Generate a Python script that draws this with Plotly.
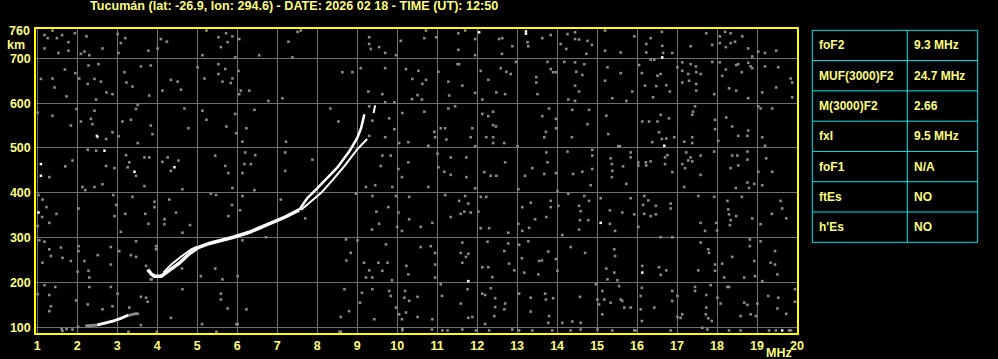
import plotly.graph_objects as go

# ---------------- data ----------------
title_text = "Tucumán (lat: -26.9, lon: 294.6) - DATE: 2026 02 18 - TIME (UT): 12:50"
x_ticks = list(range(1, 21))
y_ticks = [100, 200, 300, 400, 500, 600, 700]

table_labels = ["foF2", "MUF(3000)F2", "M(3000)F2", "fxI", "foF1", "ftEs", "h'Es"]
table_values = ["9.3 MHz", "24.7 MHz", "2.66", "9.5 MHz", "N/A", "NO", "NO"]

# low (E-region) echo
e_gray_f = [2.2, 2.5, 2.9, 3.25, 3.5]
e_gray_h = [103, 105, 114, 126, 131]
e_white_f = [2.5, 2.7, 2.9, 3.1, 3.27]
e_white_h = [105, 109, 114, 120, 127]

# F-region echo, main (merged) part
f_main_f = [3.76, 3.85, 3.93, 4.10, 4.30, 4.55, 4.80, 5.02, 5.30, 5.60, 5.90, 6.30, 6.90, 7.20, 7.55]
f_main_h = [229, 219, 214, 214, 227, 243, 264, 278, 287, 293, 301, 312, 334, 346, 362]
# split near 4-5 MHz
f_split_f = [4.15, 4.35, 4.60, 4.85, 5.00]
f_split_h = [222, 240, 258, 274, 280]
# ordinary branch
o_branch_f = [7.55, 7.75, 8.00, 8.20, 8.50, 8.80, 9.00, 9.10, 9.18]
o_branch_h = [362, 388, 410, 428, 456, 492, 522, 545, 575]
# extraordinary branch
x_branch_f = [7.60, 7.80, 8.10, 8.40, 8.70, 9.00, 9.15, 9.25]
x_branch_h = [362, 378, 400, 430, 462, 497, 510, 520]
x_top_f = [9.41, 9.45]
x_top_h = [578, 595]

# isolated bright pixels
white_dots = [(2.49, 527), (1.09, 464), (1.09, 438), (2.68, 494), (3.43, 447), (4.43, 457),
              (12.05, 758), (13.22, 760), (13.22, 755), (16.63, 702), (16.68, 505),
              (11.78, 203), (15.09, 333), (16.13, 222), (19.63, 93), (1.03, 356)]

# background noise pixels (freq MHz, virtual height km)
noise_nw = [(1.18,752),(1.38,762),(1.26,745),(1.49,745),(1.62,752),(1.78,736),(1.94,756),(1.78,717),(1.53,712),(1.18,722),(2.09,710),(2.18,715),(2.23,749),(2.63,722),(2.30,707),(3.01,754),(3.09,734),(3.20,745),(3.03,712),(3.78,717),(4.09,743),(4.24,737),(4.01,722),
            (5.23,762),(5.53,747),(5.72,756),(5.76,736),(5.88,749),(5.59,725),(6.05,743),(5.13,707),(5.95,702),(6.55,707),(7.28,737),(7.38,702),(7.51,759),(7.59,762),(9.30,747),(9.30,732),(9.34,721),(9.55,725),(9.70,712),(9.97,707),(10.09,739),
            (1.09,654),(1.38,655),(1.69,675),(1.95,667),(2.05,655),(2.28,684),(2.53,687),(2.43,654),(2.26,643),(2.59,648),(2.47,608),(2.73,624),(2.88,620),(1.73,615),(1.43,635),(3.18,669),(3.23,646),(3.38,637),(3.59,682),(3.84,684),(3.80,617),(4.13,628),(4.34,652),(4.51,648),(4.59,630),(5.01,680),(5.18,655),(5.53,687),(5.53,665),(5.70,676),(5.63,648),(5.88,655),(5.84,645),(6.03,672),(6.05,620),(6.30,628),(6.09,628),(6.78,605),(7.13,611),(8.63,669),(8.88,669),(9.09,678),(9.70,678),(9.63,620),(9.28,626),(10.22,676),(10.38,654),(9.93,602),(9.70,602),(10.37,609),
            (1.01,579),(1.38,572),(1.84,550),(1.98,587),(2.09,559),(2.34,565),(2.43,583),(2.38,553),(2.51,524),(2.72,520),(2.88,535),(3.03,526),(3.13,559),(3.34,563),(3.47,587),(3.51,596),(3.88,531),(3.84,550),(3.51,511),(4.68,588),(4.78,544),(5.13,583),(5.23,563),(5.73,548),(5.95,576),(5.97,533),(6.23,544),(6.13,514),(6.43,585),(7.22,514),(8.33,588),(8.53,559),(9.30,593),(9.38,561),(9.30,527),(9.70,524),(9.80,566),(9.93,542),(10.13,578),(10.05,511),(10.28,513),
            (1.30,435),(1.70,459),(1.88,472),(2.26,496),(2.47,494),(2.72,460),(2.93,455),(3.22,484),(3.30,468),(3.26,457),(3.47,438),(3.68,479),(3.80,479),(4.13,469),(4.26,479),(4.34,449),(4.53,472),(5.45,483),(5.70,460),(5.78,444),(6.20,490),(6.18,464),(6.34,464),(6.45,484),(6.13,444),(7.20,490),(7.20,449),(7.88,474),(9.63,483),(9.59,460),(9.84,483),(10.03,453),(10.28,468),(10.12,435)]

noise_ne = [(10.72,762),(10.68,745),(10.98,747),(11.53,756),(11.53,719),(11.70,762),(11.95,743),(11.95,707),(12.55,743),(12.63,745),(12.62,710),(12.88,727),(13.26,736),(13.28,727),(13.63,745),(13.84,752),(14.09,732),(14.26,754),(14.45,758),(14.45,743),(14.55,742),(14.76,739),(14.87,730),(14.73,710),(14.23,721),(15.20,762),(15.20,717),(15.59,713),(15.93,749),(16.23,732),(16.23,713),(16.34,745),(16.63,728),(16.65,712),(16.88,712),(16.62,759),(17.34,727),(17.73,756),(17.88,730),(18.07,749),(18.07,734),(18.22,725),(18.34,734),(18.45,737),(18.63,749),(18.20,759),(18.34,756),(18.78,722),(19.03,715),(19.20,712),(19.48,717),(18.88,704),
            (10.53,672),(10.63,643),(10.72,652),(10.51,618),(10.62,608),(11.03,670),(11.28,648),(11.30,617),(11.51,687),(11.55,687),(11.63,639),(11.95,623),(12.09,672),(12.13,608),(12.28,652),(12.48,624),(12.59,678),(12.73,670),(12.70,620),(12.84,665),(12.97,692),(13.48,658),(13.48,646),(13.51,620),(13.76,692),(13.84,676),(13.90,669),(13.97,669),(14.18,692),(14.45,691),(14.48,670),(14.63,663),(14.68,687),(14.45,639),(14.55,626),(14.28,608),(14.45,605),(15.20,650),(15.26,680),(15.59,667),(15.38,611),(15.73,605),(15.88,626),(16.05,685),(16.12,667),(16.20,639),(16.34,697),(16.43,697),(16.51,661),(16.59,665),(16.48,638),(16.40,613),(16.73,640),(16.82,626),(17.01,680),(17.13,691),(17.13,672),(17.28,665),(17.13,646),(17.34,687),(17.47,682),(17.48,669),(17.48,643),(17.59,665),(17.30,650),(17.48,628),(17.93,620),(17.88,692),(18.07,691),(18.13,661),(18.22,675),(18.30,633),(18.48,685),(18.53,687),(18.62,669),(18.48,628),(18.78,690),(18.84,682),(18.88,678),(18.78,611),(19.13,624),(19.20,682),(19.48,635),(19.53,680),(19.84,655),(19.88,646),(19.88,613),
            (10.68,581),(10.93,536),(10.95,524),(11.09,544),(11.20,544),(11.28,588),(11.45,593),(11.23,519),(10.78,505),(11.88,544),(11.84,524),(12.13,576),(12.28,571),(12.40,581),(12.40,551),(12.47,548),(12.40,524),(12.40,511),(12.23,524),(11.95,504),(12.68,511),(13.01,504),(13.63,571),(13.80,588),(13.97,565),(13.97,544),(13.72,536),(13.68,524),(14.37,524),(14.38,585),(14.76,553),(14.80,585),(15.23,572),(15.28,531),(15.57,504),(16.13,559),(16.30,559),(16.38,513),(16.51,559),(16.59,574),(16.55,535),(16.62,520),(16.73,521),(16.80,566),(16.93,524),(17.18,514),(17.38,574),(17.40,581),(17.45,593),(17.38,524),(17.38,511),(17.95,563),(17.95,542),(18.03,516),(18.23,568),(18.38,548),(18.53,527),(18.76,527),(18.78,539),(19.13,524),(19.20,505),(19.03,593),(19.09,588),(19.38,588),
            (11.01,487),(11.03,457),(11.18,447),(11.34,479),(11.34,440),(11.73,479),(11.73,435),(12.18,446),(12.34,438),(12.48,438),(12.70,468),(13.20,438),(13.38,455),(13.68,442),(13.73,490),(13.76,468),(13.97,444),(14.26,492),(14.40,442),(14.63,447),(14.88,496),(14.88,483),(14.88,453),(15.34,477),(15.37,464),(15.38,449),(15.37,435),(15.53,504),(15.84,490),(15.84,479),(15.65,459),(16.03,468),(16.03,461),(16.22,468),(16.23,461),(16.34,470),(16.70,479),(16.76,484),(16.70,464),(16.88,446),(17.13,464),(17.23,490),(17.28,472),(17.34,479),(17.38,470),(17.20,455),(17.59,483),(17.59,440),(17.93,492),(18.38,483),(18.51,483),(18.76,492),(18.76,474),(18.53,461),(18.34,455),(19.23,477),(19.03,447),(19.38,447)]

noise_sw = [(1.03,395),(1.13,385),(1.12,346),(1.23,368),(1.30,333),(1.01,326),(1.48,353),(2.03,365),(2.13,413),(2.20,406),(2.43,413),(2.63,419),(2.90,395),(2.97,373),(2.93,348),(3.09,313),(3.20,353),(3.38,391),(3.68,415),(3.70,353),(3.78,331),(3.93,380),(3.93,368),(4.18,341),(4.18,330),(4.30,385),(4.47,356),(4.63,311),(4.63,408),(4.82,328),(5.34,398),(5.47,395),(5.88,411),(5.87,373),(6.07,361),(6.13,393),(5.78,348),(6.43,406),(7.09,385),(7.70,343),(8.97,398),(9.22,413),(9.45,417),(9.38,393),(9.48,358),(9.55,331),(9.37,318),(9.78,368),(9.88,413),(10.03,356),(10.00,324),(10.12,315),(10.30,341),(9.97,393),(10.30,391),
            (1.05,294),(1.18,291),(1.30,274),(1.13,244),(1.34,259),(1.59,278),(1.63,255),(1.84,248),(2.03,281),(2.03,270),(2.01,224),(2.18,248),(2.28,226),(2.30,211),(2.51,261),(2.84,279),(2.84,240),(3.05,270),(3.34,261),(3.47,257),(3.47,292),(3.72,237),(3.97,281),(3.84,207),(3.86,207),(3.97,274),(4.62,231),(5.09,214),(5.45,231),(5.63,207),(6.01,214),(6.13,294),(6.72,301),(8.72,296),(8.73,249),(8.84,266),(9.01,294),(9.17,244),(9.30,227),(9.22,211),(9.38,211),(9.53,244),(9.63,226),(9.72,285),(9.76,244),(9.87,205),(10.23,237),(10.28,218),
            (1.01,174),(1.18,194),(1.30,172),(1.34,147),(1.30,136),(1.45,190),(1.97,160),(2.26,151),(2.30,190),(2.63,140),(2.84,190),(2.88,147),(3.01,175),(3.30,144),(3.51,130),(3.59,168),(3.72,166),(3.76,157),(3.59,105),(4.34,121),(4.63,185),(5.12,107),(5.59,175),(5.59,162),(5.76,142),(6.23,140),(6.01,107),(8.59,123),(8.68,185),(8.80,136),(9.07,155),(9.12,177),(9.38,185),(9.43,118),(9.80,181),(9.84,170),(9.97,144),(10.05,129),(10.20,181),(10.18,166),(10.30,159),(10.22,133),(10.12,118),
            (1.61,96),(1.73,96),(2.02,101),(3.28,90),(3.99,90),(5.48,90),(5.98,107),(8.56,90),(8.59,90),(10.13,93),(10.13,97),(1.63,92),(1.88,95)]

noise_se = [(10.78,413),(10.59,324),(10.88,333),(11.20,395),(11.34,346),(11.55,382),(11.59,353),(11.68,358),(11.70,393),(11.78,376),(11.84,356),(11.95,410),(12.03,358),(12.09,391),(12.23,391),(12.09,321),(12.30,321),(12.78,311),(13.03,408),(13.13,368),(13.03,331),(13.13,315),(13.30,322),(13.34,378),(13.45,341),(13.73,346),(13.84,368),(13.84,382),(14.03,371),(14.01,404),(14.13,306),(14.28,398),(14.55,371),(14.59,359),(14.57,339),(14.55,318),(14.68,393),(14.78,339),(14.80,382),(14.84,417),(15.09,388),(15.32,361),(15.32,331),(15.45,315),(15.63,356),(15.73,420),(15.84,388),(15.93,352),(16.03,324),(16.15,373),(16.18,393),(16.18,353),(16.28,383),(16.34,348),(16.47,371),(16.47,352),(16.59,301),(16.84,376),(16.84,365),(16.88,301),(17.18,413),(17.53,393),(17.59,333),(17.70,315),(17.93,391),(17.98,333),(18.00,316),(18.26,382),(18.28,363),(18.30,352),(18.34,339),(18.32,328),(18.48,348),(18.62,391),(18.76,423),(18.80,411),(18.93,420),(19.13,417),(19.09,330),(19.37,353),(19.63,365),(19.59,382),(19.73,343),(18.88,343),(18.47,411),
            (10.59,279),(10.84,281),(10.95,266),(10.95,240),(10.95,211),(11.63,289),(11.59,266),(11.63,244),(11.78,264),(11.72,257),(12.26,291),(12.13,234),(12.28,234),(12.38,212),(12.68,270),(12.78,287),(12.80,242),(12.93,227),(13.05,284),(13.12,254),(13.18,222),(13.28,292),(13.55,248),(13.62,249),(13.53,218),(13.78,269),(13.97,252),(14.01,226),(14.34,279),(14.70,266),(15.23,231),(15.43,274),(15.45,259),(15.43,222),(15.51,205),(15.26,207),(16.13,237),(16.55,234),(16.59,217),(16.73,227),(17.53,227),(17.59,289),(17.78,274),(17.80,266),(17.95,240),(17.95,226),(18.18,211),(18.13,242),(18.38,257),(18.68,211),(18.82,296),(18.82,281),(18.93,248),(18.95,214),(19.13,203),(19.09,292),(19.34,244),(19.45,240),(19.45,270),(19.51,218),
            (10.51,168),(10.51,123),(11.09,196),(11.12,170),(10.88,118),(11.59,153),(11.76,185),(11.78,121),(11.88,123),(12.13,175),(12.20,172),(12.34,187),(12.45,165),(12.45,145),(12.43,125),(12.70,153),(12.68,140),(12.20,107),(13.05,175),(13.34,166),(13.34,135),(13.70,175),(13.72,162),(13.90,165),(13.80,125),(13.78,110),(14.13,110),(14.38,113),(14.57,168),(14.59,110),(14.97,196),(15.01,162),(15.05,151),(15.13,181),(15.13,129),(15.18,162),(15.34,155),(15.55,192),(15.59,162),(15.63,159),(15.68,144),(15.84,144),(16.12,188),(16.09,170),(16.09,140),(16.12,114),(16.43,144),(16.88,181),(16.88,159),(17.01,170),(17.01,123),(17.09,121),(17.13,129),(17.45,190),(17.45,181),(17.73,172),(17.73,144),(17.72,129),(17.78,120),(17.87,114),(17.84,194),(18.01,166),(18.09,153),(18.26,190),(18.30,190),(18.59,125),(18.68,155),(18.76,150),(18.84,129),(18.97,125),(19.01,153),(19.28,170),(19.53,166),(19.51,142),(19.95,185),(19.95,157),(19.73,130),
            (10.87,95),(11.13,93),(11.26,93),(11.63,95),(11.97,93),(12.30,93),(12.88,95),(13.05,93),(13.38,93),(13.88,93),(14.34,93),(14.59,95),(15.01,95),(15.38,93),(15.93,93),(15.96,93),(16.84,93),(17.63,99),(17.76,95),(18.30,93),(18.59,93),(19.30,93),(19.47,93),(19.80,93),(19.85,93)]

# ---------------- layout helpers ----------------
W, H = 998, 359
PL, PR, PT, PB = 36, 797, 29, 333   # plot area in pixels


def px(x):
    return (x - PL) / (PR - PL)


def py(y):
    return (PB - y) / (PB - PT)


YEL = "#ffff00"
TXT = "#ffff80"
GRAY = "#8a8a8a"
GRID = "#707070"
CYAN = "#00e5e5"
FONT = "Liberation Sans, Arial, sans-serif"

fig = go.Figure()

all_noise = noise_nw + noise_ne + noise_sw + noise_se
fig.add_trace(go.Scatter(
    x=[p[0] for p in all_noise], y=[p[1] for p in all_noise], mode="markers",
    marker=dict(symbol="square", size=2.6, color=GRAY, line=dict(width=0)),
    hoverinfo="skip", showlegend=False))

fig.add_trace(go.Scatter(x=e_gray_f, y=e_gray_h, mode="lines",
                         line=dict(color=GRAY, width=3), showlegend=False, hoverinfo="skip"))
fig.add_trace(go.Scatter(x=e_white_f, y=e_white_h, mode="lines",
                         line=dict(color="white", width=2.5), showlegend=False, hoverinfo="skip"))

for fx, fh, w in [(f_main_f, f_main_h, 3.5), (f_split_f, f_split_h, 2),
                  (o_branch_f, o_branch_h, 2.5), (x_branch_f, x_branch_h, 2),
                  (x_top_f, x_top_h, 2)]:
    fig.add_trace(go.Scatter(x=fx, y=fh, mode="lines",
                             line=dict(color="white", width=w), showlegend=False, hoverinfo="skip"))

fig.add_trace(go.Scatter(
    x=[p[0] for p in white_dots], y=[p[1] for p in white_dots], mode="markers",
    marker=dict(symbol="square", size=2.5, color="white", line=dict(width=0)),
    hoverinfo="skip", showlegend=False))

tickfont = dict(family=FONT, color=TXT, size=12.5, weight="bold")
fig.update_layout(
    width=W, height=H,
    margin=dict(l=PL, r=W - PR, t=PT, b=H - PB, pad=0, autoexpand=False),
    paper_bgcolor="black", plot_bgcolor="black",
    showlegend=False,
    font=dict(family=FONT, color=TXT, size=12),
    xaxis=dict(range=[0.9675, 20.0], tickvals=x_ticks, ticktext=[str(v) for v in x_ticks],
               showgrid=True, gridcolor=GRID, gridwidth=1, zeroline=False, automargin=False,
               showline=True, linecolor=YEL, linewidth=1.5, mirror=True,
               ticks="", ticklabelstandoff=0, tickfont=tickfont),
    yaxis=dict(range=[87.3, 765.4], tickvals=y_ticks, ticktext=[str(v) for v in y_ticks],
               showgrid=True, gridcolor=GRID, gridwidth=1, zeroline=False, automargin=False,
               showline=True, linecolor=YEL, linewidth=1.5, mirror=True,
               ticks="", ticklabelstandoff=1, tickfont=tickfont),
)

annotations = [
    dict(text=title_text, x=px(294), y=py(6), xref="paper", yref="paper",
         xanchor="center", yanchor="middle", showarrow=False,
         font=dict(family=FONT, color=TXT, size=12.6, weight="bold")),
    dict(text="760", x=px(32), y=py(31), xref="paper", yref="paper",
         xanchor="right", yanchor="middle", showarrow=False, font=tickfont),
    dict(text="km", x=px(5), y=py(45), xref="paper", yref="paper",
         xanchor="left", yanchor="middle", showarrow=False, font=tickfont),
    dict(text="MHz", x=px(764), y=py(353), xref="paper", yref="paper",
         xanchor="left", yanchor="middle", showarrow=False, font=tickfont),
]

# table
TL, TM, TR, TT, TB = 812.3, 907.3, 977.7, 30.3, 242.3
n = len(table_labels)
rh = (TB - TT) / n
shapes = [dict(type="rect", xref="paper", yref="paper", x0=px(TL), x1=px(TR), y0=py(TT), y1=py(TB),
               line=dict(color=CYAN, width=1))]
shapes.append(dict(type="line", xref="paper", yref="paper", x0=px(TM), x1=px(TM), y0=py(TT), y1=py(TB),
                   line=dict(color=CYAN, width=1)))
for i in range(1, n):
    yy = TT + i * rh
    shapes.append(dict(type="line", xref="paper", yref="paper", x0=px(TL), x1=px(TR), y0=py(yy), y1=py(yy),
                       line=dict(color=CYAN, width=1)))
for i, (lab, val) in enumerate(zip(table_labels, table_values)):
    yc = TT + (i + 0.5) * rh
    annotations.append(dict(text=lab, x=px(817), y=py(yc), xref="paper", yref="paper",
                            xanchor="left", yanchor="middle", showarrow=False,
                            font=dict(family=FONT, color=TXT, size=12, weight="bold")))
    annotations.append(dict(text=val, x=px(912), y=py(yc), xref="paper", yref="paper",
                            xanchor="left", yanchor="middle", showarrow=False,
                            font=dict(family=FONT, color=TXT, size=12, weight="bold")))

fig.update_layout(annotations=annotations, shapes=shapes)
fig.write_html("out.html")
